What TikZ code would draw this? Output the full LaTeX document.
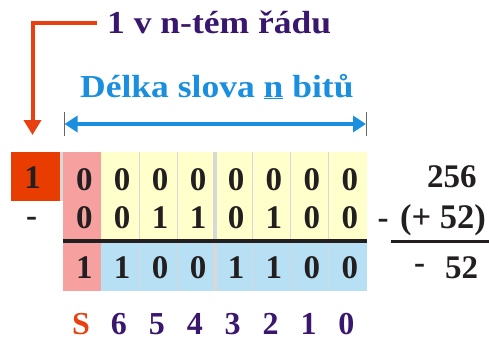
\documentclass[tikz,border=0pt]{standalone}
\usepackage{fontspec}
\setmainfont{Liberation Serif}
\newfontfamily\widefont[FakeStretch=1.11]{Liberation Serif}
\usetikzlibrary{arrows.meta}
\definecolor{signred}{HTML}{E83C00}
\definecolor{signpink}{HTML}{F7A0A0}
\definecolor{celly}{HTML}{FFFFCC}
\definecolor{cellb}{HTML}{B8E0F4}
\definecolor{sepgray}{HTML}{D8D8D8}
\definecolor{ink}{HTML}{231F20}
\definecolor{deeppurple}{HTML}{3A176E}
\definecolor{skyblue}{HTML}{1A8FE0}
\definecolor{arrowred}{HTML}{E84010}
\tikzset{
  bit/.style={font=\fontsize{33}{33}\selectfont\bfseries, text=ink, inner sep=0pt, anchor=base},
  bitpos/.style={font=\fontsize{32}{32}\selectfont\bfseries, text=deeppurple, inner sep=0pt, anchor=base},
  sumtext/.style={font=\fontsize{33}{33}\selectfont\bfseries, text=ink, inner sep=0pt, anchor=base west},
  heading/.style={font=\widefont\fontsize{32}{32}\selectfont\bfseries, inner sep=0pt, anchor=base west},
}
\begin{document}
\begin{tikzpicture}[x=1pt,y=-1pt]
\useasboundingbox (0,0) rectangle (489,340);
% cell backgrounds
\fill[sepgray] (60,152) rectangle (63.3,200.7);
\fill[signred] (11,152) rectangle (60,200.7);
\fill[celly] (101.2,152) rectangle (366.7,239.5);
\fill[cellb] (101.2,242.5) rectangle (366.7,290.7);
\fill[signpink] (63.3,152) rectangle (101.2,290.7);
% column separators
\foreach \i in {2,...,7}{
  \draw[sepgray, line width=0.9pt] ({63.3+37.925*\i},152) -- ({63.3+37.925*\i},290.7);
}
\fill[sepgray] (212.7,152) rectangle (217.3,290.7);
% result line
\draw[ink, line width=3.4pt] (63.3,241) -- (366.7,241);
% overflow bit and minus sign
\node[bit] (carry) at (32.5,188.5) {1};
\node[bit] (minus) at (31.5,226.5) {-};
% bits
\foreach \b [count=\i from 0] in {0,0,0,0,0,0,0,0}{
  \node[bit] (a\i) at ({84.3+37.925*\i},190) {\b};
}
\foreach \b [count=\i from 0] in {0,0,1,1,0,1,0,0}{
  \node[bit] (b\i) at ({84.3+37.925*\i},228.3) {\b};
}
\foreach \b [count=\i from 0] in {1,1,0,0,1,1,0,0}{
  \node[bit] (c\i) at ({84.3+37.925*\i},278.3) {\b};
}
% bit positions
\node[bitpos, text=arrowred] (pS) at (81,334) {S};
\foreach \p [count=\i from 1] in {6,5,4,3,2,1,0}{
  \node[bitpos] (p\p) at ({81+37.925*\i},334) {\p};
}
% decimal check
\node[sumtext] (d1) at (427,187.5) {256};
\node[sumtext] (d2m) at (377.5,228) {-};
\node[sumtext, font=\fontsize{34.5}{34.5}\selectfont\bfseries] (d2) at (400,228) {(+ 52)};
\node[sumtext] (d3m) at (414,273.5) {-};
\node[sumtext] (d3) at (445,278.3) {52};
\draw[ink, line width=3pt] (391,241.3) -- (488.5,241.3);
% word length
\node[heading, text=skyblue] (len) at (80,97) {Délka slova \underline{n} bitů};
\coordinate (tl) at (64.5,124);
\coordinate (tr) at (366,124);
\draw[gray!80!black, line width=0.8pt] (64.5,112) -- (64.5,136);
\draw[gray!80!black, line width=0.8pt] (366,112) -- (366,136);
\draw[skyblue, line width=3.8pt, {Triangle[length=13pt,width=16pt]}-{Triangle[length=13pt,width=16pt]}] (tl) -- (tr);
% overflow label
\node[heading, text=deeppurple] (ovf) at (107,33) {1 v n-tém řádu};
\coordinate (bend) at (32.5,22.8);
\coordinate (tip) at (32.5,135);
\draw[arrowred, line width=4pt, -{Triangle[length=15pt,width=17pt]}] (97,22.8) -- (bend) -- (tip);
\end{tikzpicture}
\end{document}
